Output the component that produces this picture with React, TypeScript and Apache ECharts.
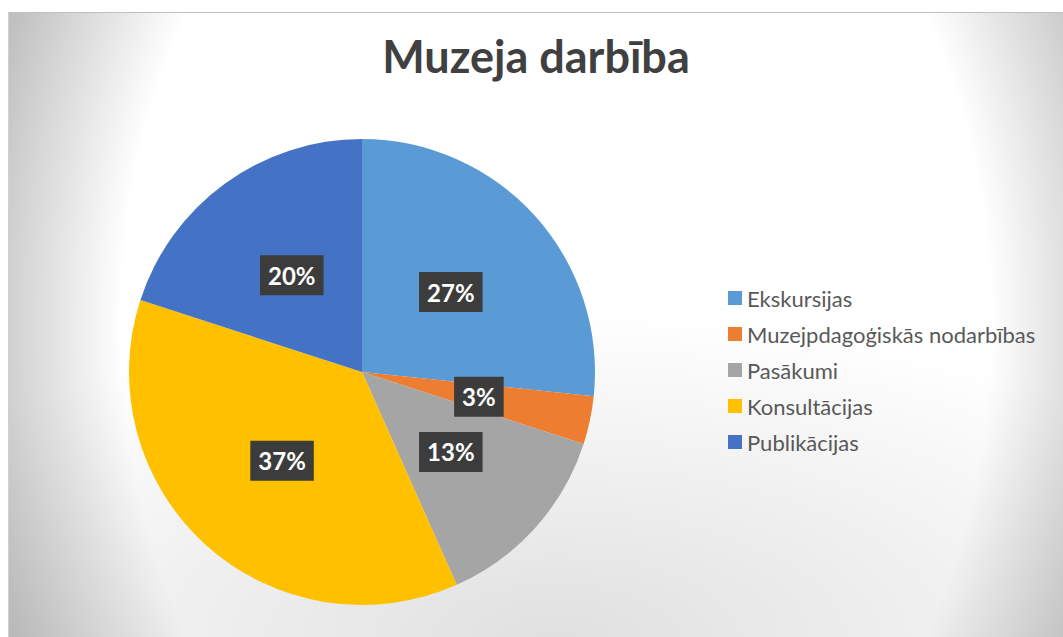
import React, { useEffect, useRef } from "react";
import * as echarts from "echarts";

const categories = [
  "Ekskursijas",
  "Muzejpdagoģiskās nodarbības",
  "Pasākumi",
  "Konsultācijas",
  "Publikācijas",
];
const values = [8, 1, 4, 11, 6];
const colors = ["#5B9BD5", "#ED7D31", "#A5A5A5", "#FFC000", "#4472C4"];
const title = "Muzeja darbība";

export default function App() {
  const ref = useRef<HTMLDivElement>(null);
  useEffect(() => {
    if (!ref.current) return;
    const chart = echarts.init(ref.current, null, { renderer: "svg" });
    const total = values.reduce((a, b) => a + b, 0);
    chart.setOption({
      animation: false,
      backgroundColor: "transparent",
      title: {
        text: title,
        left: "center",
        top: 20,
        padding: 0,
        textStyle: {
          fontFamily: "Lato",
          fontWeight: "bold",
          fontSize: 45,
          color: "#404040",
        },
      },
      legend: {
        orient: "vertical",
        left: 719,
        top: 274,
        padding: 0,
        itemWidth: 14,
        itemHeight: 14,
        itemGap: 14,
        icon: "rect",
        data: categories,
        textStyle: {
          fontFamily: "Lato",
          fontSize: 22,
          color: "#595959",
        },
      },
      series: [
        {
          type: "pie",
          center: [353, 359],
          radius: 233,
          startAngle: 90,
          clockwise: true,
          data: categories.map((c, i) => ({
            name: c,
            value: values[i],
            itemStyle: { color: colors[i] },
          })),
          label: {
            show: true,
            position: "inside",
            formatter: (p: any) => Math.round((p.value / total) * 100) + "%",
            fontFamily: "Lato",
            fontWeight: "bold",
            fontSize: 24,
            color: "#ffffff",
            backgroundColor: "#3c3c3c",
            padding: [8, 8, 8, 8],
          },
          labelLine: { show: false },
          emphasis: { disabled: true },
        },
      ],
    });
    return () => chart.dispose();
  }, []);
  return (
    <div
      ref={ref}
      style={{
        position: "absolute",
        left: 8,
        top: 12,
        width: 1055,
        height: 625,
        borderTop: "1px solid #bfbfbf",
        borderLeft: "1px solid #d0d0d0",
        boxSizing: "border-box",
        background:
          "radial-gradient(ellipse 750px 330px at 547px 625px, rgba(0,0,0,0.12) 0%, rgba(0,0,0,0) 100%), " +
          "radial-gradient(ellipse 587px 797px at 547px 312px, #ffffff 0%, #ffffff 74%, #c0c0c0 100%)",
      }}
    />
  );
}
